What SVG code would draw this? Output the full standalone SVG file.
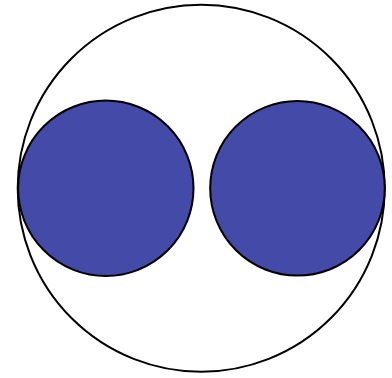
<svg xmlns="http://www.w3.org/2000/svg" width="392" height="378" viewBox="0 0 392 378">
<style>
.outer{fill:#ffffff;stroke:#000000;stroke-width:2}
.inner{fill:#444aa8;stroke:#000000;stroke-width:2}
</style>
<rect width="392" height="378" fill="#ffffff"/>
<g id="outer-circle"><circle class="outer" cx="201.2" cy="188.3" r="183.5"/></g>
<g id="left-circle"><circle class="inner" cx="105.8" cy="188.3" r="87.7"/></g>
<g id="right-circle"><circle class="inner" cx="297.5" cy="188.3" r="87.3"/></g>
</svg>
